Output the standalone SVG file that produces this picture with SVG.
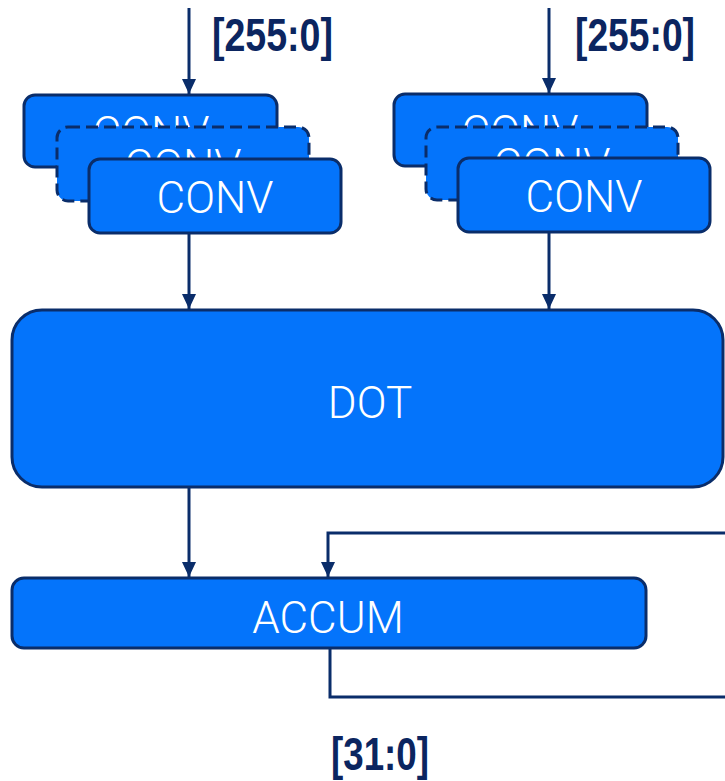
<svg xmlns="http://www.w3.org/2000/svg" width="725" height="781" viewBox="0 0 725 781">
  <defs>
    <marker id="arrow" markerWidth="15" markerHeight="14" refX="15" refY="7" orient="auto" markerUnits="userSpaceOnUse">
      <path d="M0,0 L15,7 L0,14 Z" fill="#0a2d6a"/>
    </marker>
    <style>
      .blk { fill: #0474fb; stroke: #0a2d6a; stroke-width: 3; }
      .dash { stroke-dasharray: 12 6; }
      .lbl { font-family: Roboto, "Liberation Sans", sans-serif; font-weight: 300; font-size: 44px; fill: #ffffff; text-anchor: middle; }
      .bus { font-family: "Liberation Sans", Arial, sans-serif; font-weight: bold; font-size: 47px; fill: #0b2560; }
      .wire { fill: none; stroke: #0a2d6a; stroke-width: 3; }
    </style>
  </defs>

  <rect width="725" height="781" fill="#ffffff"/>

  <!-- input bus widths -->
  <text class="bus" x="212" y="51" textLength="121" lengthAdjust="spacingAndGlyphs">[255:0]</text>
  <text class="bus" x="575" y="51" textLength="120" lengthAdjust="spacingAndGlyphs">[255:0]</text>

  <!-- left convolution stack -->
  <g id="conv-left-1">
    <rect class="blk" x="24" y="95" width="253" height="72" rx="11"/>
    <text class="lbl" x="151" y="148">CONV</text>
  </g>
  <g id="conv-left-2">
    <rect class="blk dash" x="57" y="127" width="252" height="74" rx="11"/>
    <text class="lbl" x="183" y="181">CONV</text>
  </g>
  <g id="conv-left-3">
    <rect class="blk" x="89" y="159" width="252" height="74" rx="11"/>
    <text class="lbl" x="215" y="213">CONV</text>
  </g>

  <!-- right convolution stack -->
  <g id="conv-right-1">
    <rect class="blk" x="394" y="94" width="253" height="72" rx="11"/>
    <text class="lbl" x="520" y="147">CONV</text>
  </g>
  <g id="conv-right-2">
    <rect class="blk dash" x="426" y="127" width="252" height="73" rx="11"/>
    <text class="lbl" x="552" y="180">CONV</text>
  </g>
  <g id="conv-right-3">
    <rect class="blk" x="458" y="158" width="252" height="74" rx="11"/>
    <text class="lbl" x="584" y="212">CONV</text>
  </g>

  <!-- dot product -->
  <g id="dot">
    <rect class="blk" x="12" y="310" width="711" height="177" rx="30" stroke-width="3.5"/>
    <text class="lbl" x="370" y="418">DOT</text>
  </g>

  <!-- accumulator -->
  <g id="accum">
    <rect class="blk" x="12" y="578" width="634" height="70" rx="12"/>
    <text class="lbl" x="328" y="633">ACCUM</text>
  </g>

  <text id="out-width" class="bus" x="331" y="770" font-size="45" textLength="98" lengthAdjust="spacingAndGlyphs">[31:0]</text>

  <g id="connectors">
    <line class="wire" x1="189" y1="8" x2="189" y2="94" marker-end="url(#arrow)"/>
    <line class="wire" x1="549" y1="8" x2="549" y2="93" marker-end="url(#arrow)"/>
    <line class="wire" x1="189" y1="234" x2="189" y2="309" marker-end="url(#arrow)"/>
    <line class="wire" x1="549" y1="233" x2="549" y2="309" marker-end="url(#arrow)"/>
    <line class="wire" x1="189" y1="488" x2="189" y2="577" marker-end="url(#arrow)"/>
    <path class="wire" d="M726,533 H328 V577" marker-end="url(#arrow)"/>
    <path class="wire" d="M330,649 V697 H726"/>
  </g>
</svg>
